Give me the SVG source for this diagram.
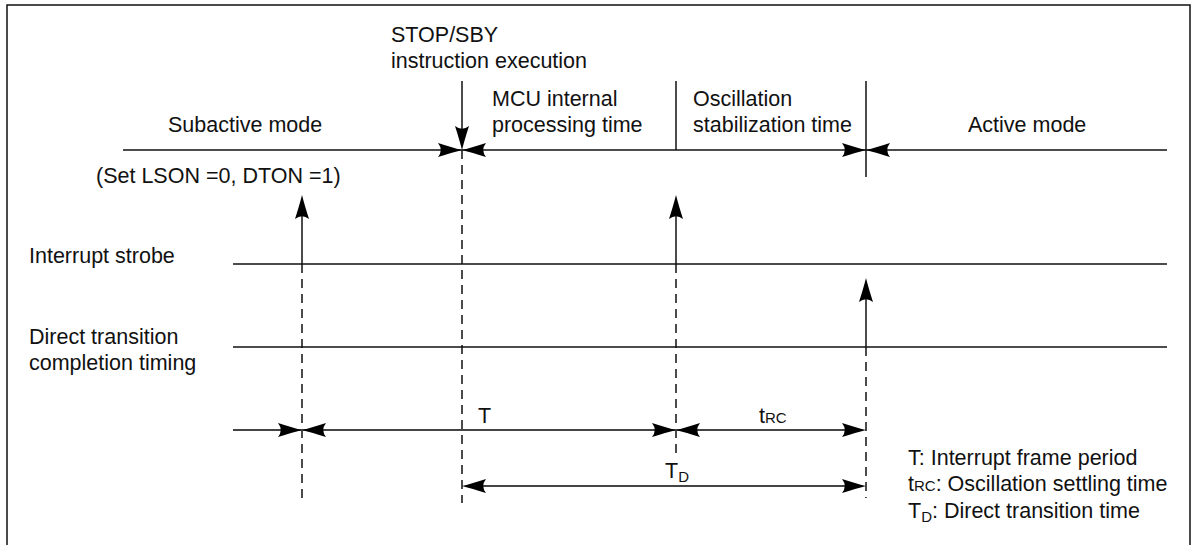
<svg xmlns="http://www.w3.org/2000/svg" xmlns:xlink="http://www.w3.org/1999/xlink" width="1198" height="545" viewBox="0 0 1198 545">
<style>
  .t { font-family: "Liberation Sans", Arial, sans-serif; font-size: 21.5px; fill: #111; }
  .s { font-size: 15px; }
  .ln { stroke: #111; stroke-width: 1.5; fill: none; }
  .lg { stroke: #444; stroke-width: 2; fill: none; }
  .ds { stroke: #111; stroke-width: 1.5; fill: none; stroke-dasharray: 9 6; }
  .ah { fill: #000; }
</style>
<defs>
  <path id="ah" class="ah" d="M0,0 Q-10,-2.5 -24,-7 Q-18.5,0 -24,7 Q-10,2.5 0,0 Z"/>
</defs>
<rect width="1198" height="545" fill="#fff"/>
<g id="frame">
  <path class="ln" d="M7,545 V5 H1190 V545"/>
</g>
<g id="timelines">
  <line class="ln" x1="123" y1="150" x2="1167" y2="150"/>
  <line class="ln" x1="233" y1="264" x2="1167" y2="264"/>
  <line class="ln" x1="233" y1="347" x2="1167" y2="347"/>
  <line class="ln" x1="676" y1="81" x2="676" y2="150"/>
  <line class="ln" x1="866" y1="81" x2="866" y2="177"/>
</g>
<g id="connectors">
  <line class="ln" x1="462" y1="81" x2="462" y2="140"/>
  <use href="#ah" transform="translate(462,150) rotate(90)"/>
  <use href="#ah" transform="translate(462,150)"/>
  <use href="#ah" transform="translate(462,150) rotate(180)"/>
  <use href="#ah" transform="translate(866,150)"/>
  <use href="#ah" transform="translate(866,150) rotate(180)"/>
  <line class="ln" x1="302" y1="264" x2="302" y2="205"/>
  <use href="#ah" transform="translate(302,195) rotate(-90)"/>
  <line class="ln" x1="676" y1="264" x2="676" y2="205"/>
  <use href="#ah" transform="translate(676,195) rotate(-90)"/>
  <line class="ln" x1="866" y1="347" x2="866" y2="288"/>
  <use href="#ah" transform="translate(866,278) rotate(-90)"/>
  <line class="ds" x1="302" y1="264" x2="302" y2="498"/>
  <line class="ds" x1="462" y1="150" x2="462" y2="503"/>
  <line class="ds" x1="676" y1="264" x2="676" y2="455"/>
  <line class="ds" x1="866" y1="347" x2="866" y2="498"/>
  <line class="lg" x1="233" y1="430" x2="856" y2="430"/>
  <use href="#ah" transform="translate(302,430)"/>
  <use href="#ah" transform="translate(302,430) rotate(180)"/>
  <use href="#ah" transform="translate(676,430)"/>
  <use href="#ah" transform="translate(676,430) rotate(180)"/>
  <use href="#ah" transform="translate(866,430)"/>
  <line class="lg" x1="472" y1="486" x2="856" y2="486"/>
  <use href="#ah" transform="translate(462,486) rotate(180)"/>
  <use href="#ah" transform="translate(866,486)"/>
</g>
<g id="labels">
  <text class="t" x="391" y="42">STOP/SBY</text>
  <text class="t" x="391" y="68">instruction execution</text>
  <text class="t" x="492" y="106">MCU internal</text>
  <text class="t" x="492" y="132">processing time</text>
  <text class="t" x="693" y="106">Oscillation</text>
  <text class="t" x="693" y="132">stabilization time</text>
  <text class="t" x="168" y="132">Subactive mode</text>
  <text class="t" x="968" y="132">Active mode</text>
  <text class="t" x="96" y="183">(Set LSON =0, DTON =1)</text>
  <text class="t" x="29" y="263">Interrupt strobe</text>
  <text class="t" x="29" y="344">Direct transition</text>
  <text class="t" x="29" y="370">completion timing</text>
  <text class="t" x="478" y="423">T</text>
  <text class="t" x="759" y="423">t<tspan class="s">RC</tspan></text>
  <text class="t" x="665" y="478">T<tspan class="s" dy="4">D</tspan></text>
</g>
<g id="legend">
  <text class="t" x="908" y="465">T: Interrupt frame period</text>
  <text class="t" x="908" y="491">t<tspan class="s">RC</tspan>: Oscillation settling time</text>
  <text class="t" x="908" y="518">T<tspan class="s" dy="4">D</tspan><tspan dy="-4">: Direct transition time</tspan></text>
</g>
</svg>
